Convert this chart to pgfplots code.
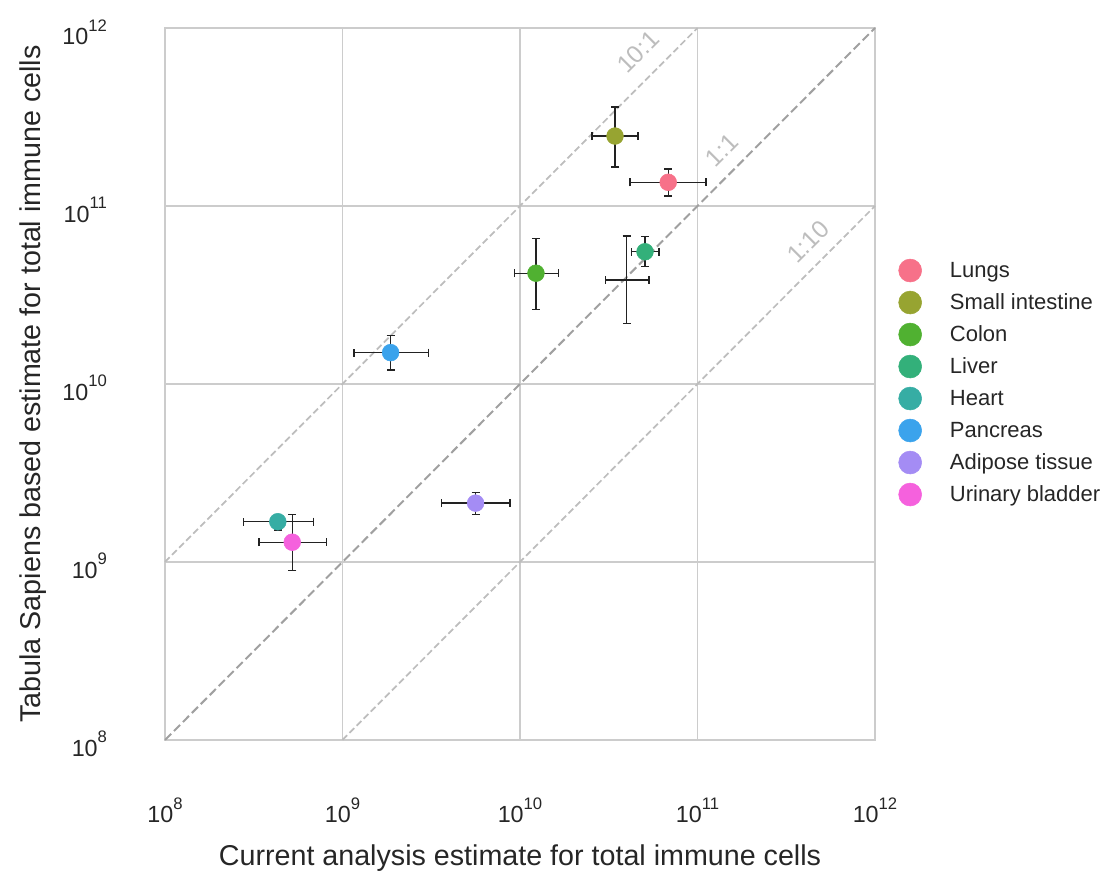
\documentclass[border=0pt]{standalone}
\usepackage{fontspec}
\setmainfont{Liberation Sans}
\usepackage{pgfplots}
\usepackage{pgfplotstable}
\pgfplotsset{compat=1.18}

\definecolor{txt}{HTML}{262626}
\definecolor{gridc}{HTML}{CCCCCC}
\definecolor{diagc}{HTML}{A0A0A0}
\definecolor{diagl}{HTML}{BDBDBD}
\definecolor{errc}{HTML}{222222}
\definecolor{cLungs}{HTML}{F77189}
\definecolor{cSmall}{HTML}{97A431}
\definecolor{cColon}{HTML}{50B131}
\definecolor{cLiver}{HTML}{33B07A}
\definecolor{cHeart}{HTML}{36ADA4}
\definecolor{cPanc}{HTML}{3BA3EC}
\definecolor{cAdip}{HTML}{A48CF4}
\definecolor{cBlad}{HTML}{F561DD}

\newcommand{\tp}[1]{10\raisebox{10pt}{\fontsize{12.5}{12.5}\selectfont #1}}

% x, y and their error offsets (minus / plus)
\pgfplotstableread{
x        y         xm       xp       ym       yp
6.84e10  1.358e11  2.67e10  4.33e10  2.20e10  2.56e10
3.43e10  2.47e11   8.83e9   1.19e10  8.14e10  1.13e11
1.230e10 4.19e10   3.01e9   4.14e9   1.58e10  2.40e10
5.06e10  5.53e10   8.0e9    1.01e10  9.7e9    1.20e10
3.99e10  3.84e10   9.5e9    1.34e10  1.65e10  2.94e10
4.32e8   1.683e9   1.56e8   2.52e8   1.7e8    0.5e8
5.21e8   1.291e9   1.82e8   2.94e8   3.98e8   5.63e8
1.866e9  1.50e10   7.05e8   1.174e9  3.0e9    3.66e9
5.62e9   2.14e9    2.0e9    3.17e9   2.86e8   3.1e8
}\errdata

\begin{document}
\begin{tikzpicture}
\begin{axis}[
  xmode=log, ymode=log,
  scale only axis, width=532.5pt, height=534pt,
  xmin=1e8, xmax=1e12, ymin=1e8, ymax=1e12,
  xtick={1e8,1e9,1e10,1e11,1e12},
  ytick={1e8,1e9,1e10,1e11,1e12},
  xticklabels={\tp{8},\tp{9},\tp{10},\tp{11},\tp{12}},
  yticklabels={\tp{8},\tp{9},\tp{10},\tp{11},\tp{12}},
  minor tick num=0, minor tick style={draw=none},
  major tick length=0pt,
  grid=major,
  major grid style={color=gridc, line width=1.1pt},
  axis line style={color=gridc, line width=1.5pt},
  tick label style={font=\fontsize{17.5}{20}\selectfont, text=txt},
  xticklabel style={yshift=-40pt},
  yticklabel style={xshift=-40pt, yshift=-3pt},
  label style={font=\fontsize{21.5}{25}\selectfont, text=txt},
  xlabel={Current analysis estimate for total immune cells},
  ylabel={Tabula Sapiens based estimate for total immune cells},
  xlabel style={at={(rel axis cs:0.5,-0.166)}, anchor=center},
  ylabel style={at={(rel axis cs:-0.186,0.5)}, anchor=center},
  legend style={draw=none, fill=none, at={(1.027,0.502)}, anchor=west,
    font=\fontsize{16.5}{19}\selectfont, text=txt, row sep=6.4pt},
  legend cell align=left,
  legend image code/.code={\fill (0.35cm,0cm) circle (8.6pt); \path (1.32cm,0cm);},
  clip=false,
]
% reference lines
\addplot[forget plot, color=diagl, line width=1.3pt, dash pattern=on 5pt off 2.5pt] coordinates {(1e8,1e9) (1e11,1e12)};
\addplot[forget plot, color=diagc, line width=1.5pt, dash pattern=on 6.5pt off 3pt] coordinates {(1e8,1e8) (1e12,1e12)};
\addplot[forget plot, color=diagl, line width=1.3pt, dash pattern=on 5pt off 2.5pt] coordinates {(1e9,1e8) (1e12,1e11)};
\node[rotate=45, text=diagl, font=\fontsize{18.5}{20}\selectfont] at (axis cs:4.62e10,7.33e11) {10:1};
\node[rotate=45, text=diagl, font=\fontsize{18.5}{20}\selectfont] at (axis cs:1.374e11,2.065e11) {1:1};
\node[rotate=45, text=diagl, font=\fontsize{18.5}{20}\selectfont] at (axis cs:4.2e11,6.28e10) {1:10};

% error bars
\addplot[forget plot, draw=none, mark=none,
  error bars/.cd, x dir=both, x explicit, y dir=both, y explicit,
  error bar style={draw=errc, line width=1pt, solid},
  error mark options={draw=errc, line width=1pt, mark size=3pt, rotate=90}]
  table[x=x, y=y, x error minus=xm, x error plus=xp, y error minus=ym, y error plus=yp]{\errdata};

% points
\addplot[only marks, mark=*, mark size=6.3pt, color=cLungs] coordinates {(6.84e10,1.358e11)};
\addlegendentry{Lungs}
\addplot[only marks, mark=*, mark size=6.3pt, color=cSmall] coordinates {(3.43e10,2.47e11)};
\addlegendentry{Small intestine}
\addplot[only marks, mark=*, mark size=6.3pt, color=cColon] coordinates {(1.230e10,4.19e10)};
\addlegendentry{Colon}
\addplot[only marks, mark=*, mark size=6.3pt, color=cLiver] coordinates {(5.06e10,5.53e10)};
\addlegendentry{Liver}
\addplot[only marks, mark=*, mark size=6.3pt, color=cHeart] coordinates {(4.32e8,1.683e9)};
\addlegendentry{Heart}
\addplot[only marks, mark=*, mark size=6.3pt, color=cPanc] coordinates {(1.866e9,1.50e10)};
\addlegendentry{Pancreas}
\addplot[only marks, mark=*, mark size=6.3pt, color=cAdip] coordinates {(5.62e9,2.14e9)};
\addlegendentry{Adipose tissue}
\addplot[only marks, mark=*, mark size=6.3pt, color=cBlad] coordinates {(5.21e8,1.291e9)};
\addlegendentry{Urinary bladder}

\path (rel axis cs:-0.2324,-0.191) rectangle (rel axis cs:1.3296,1.0393);
\end{axis}
\end{tikzpicture}
\end{document}
